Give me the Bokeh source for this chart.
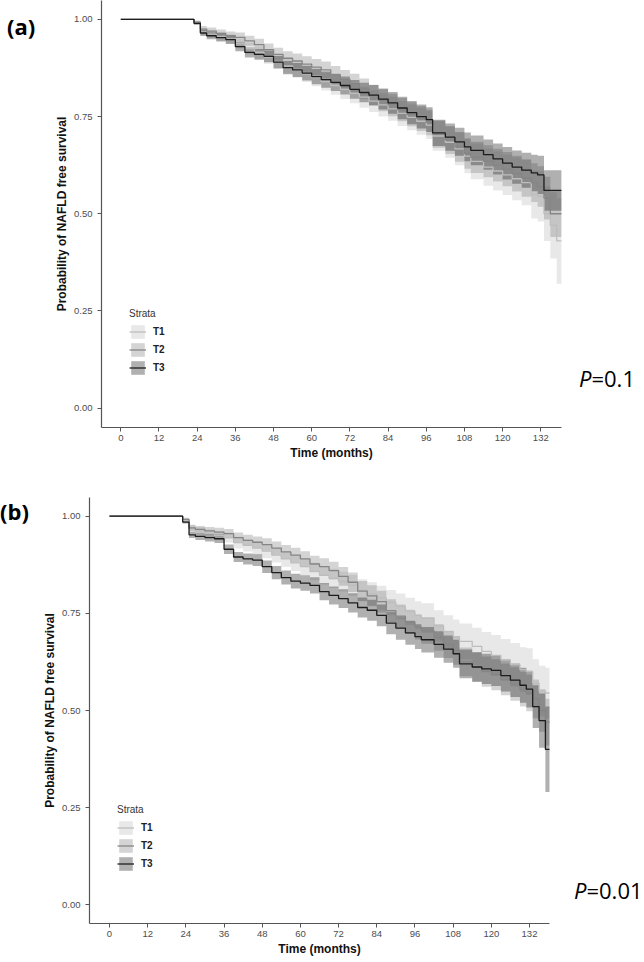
from bokeh.plotting import figure
from bokeh.models import (ColumnDataSource, FixedTicker, Legend, LegendItem,
                          Range1d, PrintfTickFormatter, Div)
from bokeh.layouts import column, row
from bokeh.embed import file_html
from bokeh.resources import INLINE

# ---------------- data ----------------
months = [0, 21, 23, 25, 27, 30, 33, 36, 39, 42, 45, 48, 51, 54, 57, 60, 63, 66, 69, 72,
          75, 78, 81, 84, 87, 90, 93, 96, 98, 102, 105, 108, 110, 114, 117, 120, 123, 126,
          129, 131, 133, 135, 137, 138.6]

strata = ["T1", "T2", "T3"]
x_ticks = [0, 12, 24, 36, 48, 60, 72, 84, 96, 108, 120, 132]
y_ticks = [0.0, 0.25, 0.50, 0.75, 1.00]
p_values = {"a": "0.1", "b": "0.01"}

# panel (a): survival estimates
a_T1 = [1.000, 1.000, 0.990, 0.968, 0.962, 0.956, 0.950, 0.938, 0.925, 0.915, 0.903, 0.892,
        0.880, 0.870, 0.860, 0.850, 0.840, 0.830, 0.820, 0.810, 0.800, 0.790, 0.780, 0.770,
        0.758, 0.748, 0.738, 0.728, 0.700, 0.684, 0.667, 0.648, 0.635, 0.620, 0.610, 0.600,
        0.590, 0.580, 0.550, 0.545, 0.500, 0.470, 0.430, 0.430]
a_T2 = [1.000, 1.000, 0.993, 0.975, 0.970, 0.964, 0.958, 0.954, 0.945, 0.935, 0.922, 0.910,
        0.900, 0.893, 0.885, 0.877, 0.870, 0.857, 0.846, 0.835, 0.822, 0.805, 0.792, 0.780,
        0.768, 0.756, 0.745, 0.735, 0.705, 0.690, 0.672, 0.655, 0.645, 0.635, 0.625, 0.615,
        0.603, 0.592, 0.580, 0.570, 0.540, 0.500, 0.500, 0.500]
a_T3 = [1.000, 1.000, 0.990, 0.965, 0.958, 0.953, 0.948, 0.930, 0.915, 0.910, 0.905, 0.890,
        0.876, 0.870, 0.862, 0.853, 0.845, 0.838, 0.830, 0.820, 0.812, 0.805, 0.795, 0.785,
        0.772, 0.760, 0.750, 0.742, 0.708, 0.697, 0.685, 0.672, 0.663, 0.652, 0.641, 0.630,
        0.620, 0.612, 0.605, 0.600, 0.560, 0.560, 0.560, 0.560]
# panel (a): half-widths of the confidence bands
a_T1_ci = [0, 0, .004, .009, .010, .011, .012, .013, .015, .016, .017, .018, .019, .020, .021,
           .022, .023, .024, .025, .026, .027, .028, .030, .031, .032, .033, .035, .036, .038,
           .040, .042, .044, .046, .048, .050, .052, .055, .058, .062, .065, .070, .085, .110, .110]
a_T2_ci = [0, 0, .004, .008, .009, .010, .011, .012, .013, .015, .016, .017, .018, .019, .020,
           .021, .022, .023, .024, .025, .026, .027, .028, .029, .030, .031, .032, .033, .035,
           .036, .038, .039, .040, .041, .042, .044, .046, .048, .050, .052, .055, .060, .060, .060]
a_T3_ci = [0, 0, .004, .008, .009, .010, .011, .012, .013, .014, .015, .016, .017, .018, .019,
           .020, .021, .022, .023, .024, .025, .026, .027, .028, .029, .030, .031, .032, .034,
           .035, .036, .037, .038, .039, .040, .042, .043, .045, .047, .049, .052, .052, .052, .052]

# panel (b): survival estimates
b_T1 = [1.000, 1.000, 0.990, 0.968, 0.962, 0.955, 0.950, 0.945, 0.932, 0.925, 0.918, 0.910,
        0.900, 0.890, 0.880, 0.870, 0.858, 0.848, 0.840, 0.832, 0.822, 0.810, 0.800, 0.790,
        0.778, 0.768, 0.755, 0.745, 0.738, 0.718, 0.703, 0.690, 0.678, 0.665, 0.652, 0.642,
        0.630, 0.618, 0.605, 0.600, 0.570, 0.550, 0.545, 0.545]
b_T2 = [1.000, 1.000, 0.992, 0.970, 0.966, 0.962, 0.959, 0.955, 0.945, 0.938, 0.933, 0.927,
        0.918, 0.908, 0.900, 0.890, 0.877, 0.870, 0.860, 0.845, 0.830, 0.807, 0.795, 0.780,
        0.757, 0.743, 0.728, 0.715, 0.705, 0.688, 0.670, 0.654, 0.625, 0.612, 0.600, 0.592,
        0.580, 0.568, 0.555, 0.545, 0.530, 0.500, 0.470, 0.470]
b_T3 = [1.000, 1.000, 0.985, 0.952, 0.948, 0.945, 0.942, 0.915, 0.895, 0.890, 0.887, 0.870,
        0.855, 0.842, 0.833, 0.828, 0.822, 0.806, 0.796, 0.788, 0.777, 0.765, 0.758, 0.745,
        0.725, 0.712, 0.700, 0.690, 0.682, 0.670, 0.658, 0.646, 0.620, 0.612, 0.607, 0.603,
        0.590, 0.578, 0.565, 0.555, 0.510, 0.474, 0.400, 0.400]
b_T1_ci = [0, 0, .004, .009, .010, .011, .012, .013, .015, .016, .017, .018, .019, .020, .021,
           .022, .023, .024, .025, .026, .027, .028, .030, .031, .032, .033, .035, .036, .038,
           .040, .042, .044, .046, .048, .050, .052, .054, .056, .058, .060, .062, .065, .065, .065]
b_T2_ci = [0, 0, .004, .008, .009, .010, .011, .012, .013, .014, .015, .016, .017, .018, .019,
           .020, .021, .022, .023, .024, .025, .026, .027, .028, .029, .030, .031, .032, .033,
           .034, .035, .036, .037, .038, .039, .040, .041, .043, .045, .047, .050, .055, .060, .060]
b_T3_ci = [0, 0, .004, .008, .009, .010, .011, .012, .013, .014, .015, .016, .017, .018, .019,
           .020, .021, .022, .023, .024, .025, .026, .027, .028, .029, .030, .031, .032, .033,
           .034, .035, .036, .037, .038, .039, .040, .041, .043, .045, .047, .055, .070, .110, .110]

line_colors = {"T1": "#bdbdbd", "T2": "#858585", "T3": "#1c1c1c"}

AXIS_FONT = "Liberation Sans"
TAG_FONT = "Open Sans"
PPX = 420.0 / 132.0          # pixels per month in both panels
FIG_W = 531                  # figure width (61 left border + 460 frame + 10 right)


def make_panel(surv, ci, fig_h, border_top, border_bottom, xr, yr):
    p = figure(width=FIG_W, height=fig_h, x_range=Range1d(*xr), y_range=Range1d(*yr),
               output_backend="svg", toolbar_location=None,
               min_border_left=61, min_border_right=10,
               min_border_top=border_top, min_border_bottom=border_bottom)
    p.outline_line_color = None
    p.grid.visible = False
    p.background_fill_color = "white"
    p.border_fill_color = None

    bands, lines = [], []
    for s in strata:
        lo = [max(0.0, v - h) for v, h in zip(surv[s], ci[s])]
        hi = [min(1.0, v + h) for v, h in zip(surv[s], ci[s])]
        src = ColumnDataSource(dict(t=months, s=surv[s], lo=lo, hi=hi))
        bands.append((s, src, p.varea_step(x="t", y1="lo", y2="hi", step_mode="after",
                                           source=src, fill_color=line_colors[s],
                                           fill_alpha=0.35)))
    for s, src, _ in bands:
        lines.append(p.step(x="t", y="s", mode="after", source=src,
                            line_color=line_colors[s], line_width=1.3))

    p.xaxis.ticker = FixedTicker(ticks=x_ticks)
    p.yaxis.ticker = FixedTicker(ticks=y_ticks)
    p.yaxis.formatter = PrintfTickFormatter(format="%.2f")
    for ax in (p.xaxis[0], p.yaxis[0]):
        ax.axis_line_color = "#555555"
        ax.axis_line_width = 1.2
        ax.major_tick_line_color = "#555555"
        ax.major_tick_line_width = 1.0
        ax.major_tick_out = 4
        ax.major_tick_in = 0
        ax.minor_tick_line_color = None
        ax.major_label_text_font = AXIS_FONT
        ax.major_label_text_font_size = "9.5px"
        ax.major_label_text_color = "#4d4d4d"
        ax.axis_label_text_font = AXIS_FONT
        ax.axis_label_text_font_style = "bold"
        ax.axis_label_text_font_size = "12px"
        ax.axis_label_text_color = "#111111"
    p.xaxis.axis_label = "Time (months)"
    p.yaxis.axis_label = "Probability of NAFLD free survival"
    p.xaxis.major_label_standoff = 3
    p.yaxis.major_label_standoff = 5
    p.xaxis.axis_label_standoff = 2
    p.yaxis.axis_label_standoff = 2

    items = [LegendItem(label=s, renderers=[b[2], l]) for b, l, s in zip(bands, lines, strata)]
    leg = Legend(items=items, location=(28, 51), title="Strata")
    leg.title_text_font = AXIS_FONT
    leg.title_text_font_size = "10px"
    leg.title_text_font_style = "normal"
    leg.title_text_color = "#333333"
    leg.title_standoff = 4
    leg.label_text_font = AXIS_FONT
    leg.label_text_font_size = "10px"
    leg.label_text_font_style = "bold"
    leg.label_text_color = "#222222"
    leg.glyph_width = 17
    leg.glyph_height = 17
    leg.label_height = 17
    leg.label_standoff = 7
    leg.spacing = 1
    leg.padding = 0
    leg.margin = 0
    leg.background_fill_alpha = 0
    leg.border_line_alpha = 0
    p.add_layout(leg)
    return p


def tag_div(text, width, height, left, top):
    html = ('<div style="position:relative;left:%dpx;top:%dpx;margin:0;padding:0;'
            "font-family:'Open Sans';font-weight:bold;font-size:22px;line-height:22px;"
            'white-space:nowrap;color:#000">%s</div>' % (left, top, text))
    return Div(text=html, width=width, height=height, margin=0)


def p_div(pval, width, height, left, top):
    html = ('<div style="position:relative;left:%dpx;top:%dpx;margin:0;padding:0;'
            "font-family:'Open Sans';font-weight:normal;font-size:22px;line-height:22px;"
            'white-space:nowrap;color:#000"><span style="font-style:italic">P</span>=%s</div>'
            % (left, top, pval))
    return Div(text=html, width=width, height=height, margin=0)


# panel (a): frame x 101..561, y 0..427 ; zero month at 120.3, y=0 at 407.6, 388.7 px/unit
pa = make_panel({"T1": a_T1, "T2": a_T2, "T3": a_T3},
                {"T1": a_T1_ci, "T2": a_T2_ci, "T3": a_T3_ci},
                480, 0, 53,
                ((101 - 120.3) / PPX, (561 - 120.3) / PPX),
                ((407.6 - 427) / 388.7, (407.6 - 0) / 388.7))
# panel (b): frame x 89..549, y 497..923 ; zero month at 109, y=0 at 904.3, 388.6 px/unit
pb = make_panel({"T1": b_T1, "T2": b_T2, "T3": b_T3},
                {"T1": b_T1_ci, "T2": b_T2_ci, "T3": b_T3_ci},
                481, 17, 38,
                ((89 - 109) / PPX, (549 - 109) / PPX),
                ((904.3 - 923) / 388.6, (904.3 - 497) / 388.6))

row_a = row(tag_div("(a)", 40, 480, 7, 15), pa, p_div(p_values["a"], 644 - 40 - FIG_W, 480, 8, 367),
            spacing=0)
row_b = row(tag_div("(b)", 28, 481, 0, 20), pb, p_div(p_values["b"], 644 - 28 - FIG_W, 481, 15, 399),
            spacing=0)

layout = column(row_a, row_b, spacing=0)
open("out.html", "w").write(file_html(layout, INLINE))
